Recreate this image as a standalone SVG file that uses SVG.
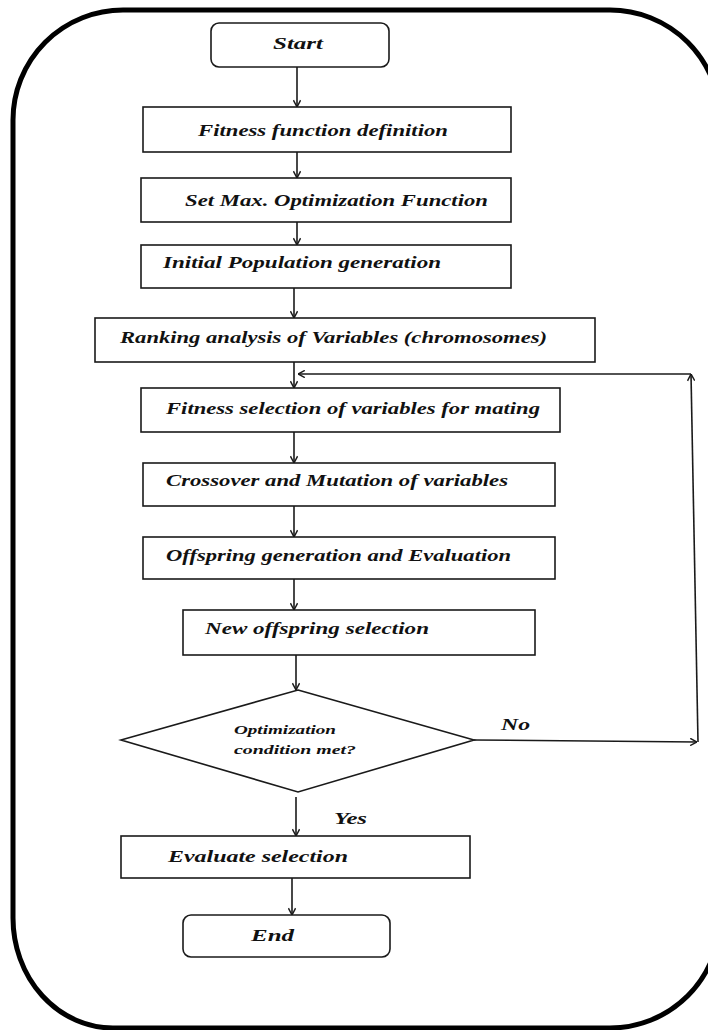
<svg xmlns="http://www.w3.org/2000/svg" width="708" height="1030" viewBox="0 0 708 1030">
<style>
.box{fill:#fff;stroke:#1a1a1a;stroke-width:1.6}
.ln{fill:none;stroke:#1a1a1a;stroke-width:1.6}
.t{font-family:"Liberation Serif","Times New Roman",serif;font-style:italic;font-weight:bold;font-size:16px;fill:#111}
.s{font-size:13px}
</style>
<defs>
<marker id="ah" viewBox="0 0 10 10" refX="9.5" refY="5" markerWidth="8" markerHeight="8" markerUnits="userSpaceOnUse" orient="auto">
<path d="M1,0.5 L9.5,5 L1,9.5" fill="none" stroke="#1a1a1a" stroke-width="1.8"/>
</marker>
</defs>
<rect width="708" height="1030" fill="#fff"/>
<path id="frame" d="M123,10 H610 A110,110 0 0 1 720,120 V918 A110,110 0 0 1 610,1028 H113 A100,110 0 0 1 13,918 V120 A110,110 0 0 1 123,10 Z" fill="none" stroke="#000" stroke-width="5"/>
<g id="connectors" class="ln">
<line x1="297" y1="67" x2="297" y2="107" marker-end="url(#ah)"/>
<line x1="297" y1="152" x2="297" y2="178" marker-end="url(#ah)"/>
<line x1="297" y1="222" x2="297" y2="245" marker-end="url(#ah)"/>
<line x1="294" y1="288" x2="294" y2="318" marker-end="url(#ah)"/>
<line x1="294" y1="362" x2="294" y2="388" marker-end="url(#ah)"/>
<line x1="294" y1="432" x2="294" y2="463" marker-end="url(#ah)"/>
<line x1="294" y1="506" x2="294" y2="537" marker-end="url(#ah)"/>
<line x1="294" y1="579" x2="294" y2="610" marker-end="url(#ah)"/>
<line x1="296" y1="655" x2="296" y2="690" marker-end="url(#ah)"/>
<line x1="296" y1="797" x2="296" y2="836" marker-end="url(#ah)"/>
<line x1="292" y1="878" x2="292" y2="915" marker-end="url(#ah)"/>
<line x1="474" y1="740" x2="697" y2="742" marker-end="url(#ah)"/>
<line x1="698" y1="742" x2="691" y2="374" marker-end="url(#ah)"/>
<line x1="691" y1="374" x2="298" y2="374" marker-end="url(#ah)"/>
</g>
<g id="start"><rect class="box" x="211" y="23" width="178" height="44" rx="8"/><text class="t" x="273" y="49" textLength="50" lengthAdjust="spacingAndGlyphs">Start</text></g>
<g id="fitness-def"><rect class="box" x="143" y="107" width="368" height="45"/><text class="t" x="198" y="136" textLength="250" lengthAdjust="spacingAndGlyphs">Fitness function definition</text></g>
<g id="set-max"><rect class="box" x="141" y="178" width="370" height="44"/><text class="t" x="185" y="206" textLength="303" lengthAdjust="spacingAndGlyphs">Set Max. Optimization Function</text></g>
<g id="init-pop"><rect class="box" x="141" y="245" width="370" height="43"/><text class="t" x="163" y="268" textLength="278" lengthAdjust="spacingAndGlyphs">Initial Population generation</text></g>
<g id="ranking"><rect class="box" x="95" y="318" width="500" height="44"/><text class="t" x="120" y="343" textLength="427" lengthAdjust="spacingAndGlyphs">Ranking analysis of Variables (chromosomes)</text></g>
<g id="fit-sel"><rect class="box" x="141" y="388" width="419" height="44"/><text class="t" x="166" y="414" textLength="374" lengthAdjust="spacingAndGlyphs">Fitness selection of variables for mating</text></g>
<g id="crossover"><rect class="box" x="143" y="463" width="412" height="43"/><text class="t" x="166" y="486" textLength="342" lengthAdjust="spacingAndGlyphs">Crossover and Mutation of variables</text></g>
<g id="offspring"><rect class="box" x="143" y="537" width="412" height="42"/><text class="t" x="166" y="561" textLength="345" lengthAdjust="spacingAndGlyphs">Offspring generation and Evaluation</text></g>
<g id="new-off"><rect class="box" x="183" y="610" width="352" height="45"/><text class="t" x="205" y="634" textLength="224" lengthAdjust="spacingAndGlyphs">New offspring selection</text></g>
<g id="decision"><polygon class="box" points="298,690 474,740 298,792 121,740"/><text class="t s" x="234" y="734" textLength="102" lengthAdjust="spacingAndGlyphs">Optimization</text><text class="t s" x="234" y="754" textLength="122" lengthAdjust="spacingAndGlyphs">condition  met?</text></g>
<g id="labels"><text class="t" x="501" y="730" textLength="29" lengthAdjust="spacingAndGlyphs">No</text><text class="t" x="334" y="824" textLength="33" lengthAdjust="spacingAndGlyphs">Yes</text></g>
<g id="evaluate"><rect class="box" x="121" y="836" width="349" height="42"/><text class="t" x="168" y="862" textLength="180" lengthAdjust="spacingAndGlyphs">Evaluate selection</text></g>
<g id="end"><rect class="box" x="183" y="915" width="207" height="42" rx="8"/><text class="t" x="251" y="941" textLength="43" lengthAdjust="spacingAndGlyphs">End</text></g>
</svg>
